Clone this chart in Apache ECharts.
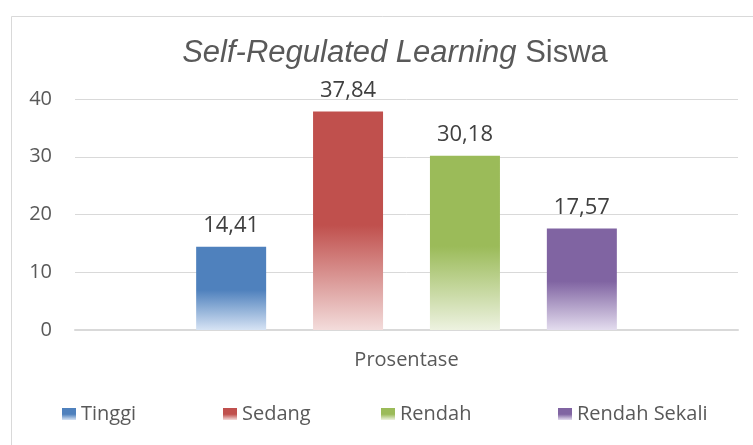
<!DOCTYPE html>
<html>
<head>
<meta charset="utf-8">
<script src="https://cdn.jsdelivr.net/npm/echarts@6/dist/echarts.min.js"></script>
<style>
html,body{margin:0;padding:0;background:#fff;}
#c{width:753px;height:445px;}
</style>
</head>
<body>
<div id="c"></div>
<script>
const categories = ['Prosentase'];
const seriesNames = ['Tinggi', 'Sedang', 'Rendah', 'Rendah Sekali'];
const seriesValues = [[14.41], [37.84], [30.18], [17.57]];
const yTicks = { min: 0, max: 40, interval: 10 };

const baseColors = ['#4F81BD', '#C0504D', '#9BBB59', '#8064A2'];
const lightColors = ['#D6E3F4', '#F3DCDB', '#EDF2E0', '#E3DCEE'];
const legendLefts = [62, 223, 381, 558];
const FONT = "'Open Sans', sans-serif";
const TFONT = "'Liberation Sans', Arial, sans-serif";

function grad(i) {
  return new echarts.graphic.LinearGradient(0, 0, 0, 1, [
    { offset: 0, color: baseColors[i] },
    { offset: 0.52, color: baseColors[i] },
    { offset: 1, color: lightColors[i] }
  ]);
}

const chart = echarts.init(document.getElementById('c'), null, { renderer: 'canvas' });

const option = {
  backgroundColor: '#fff',
  animation: false,
  graphic: [{
    type: 'rect',
    shape: { x: 11.5, y: 16.5, width: 800, height: 500 },
    style: { fill: 'none', stroke: '#D9D9D9', lineWidth: 1 },
    silent: true
  }],
  title: {
    text: '{i|Self-Regulated Learning} {n|Siswa}',
    left: 390,
    textAlign: 'center',
    top: 33,
    textStyle: {
      fontWeight: 'normal',
      fontSize: 31,
      fontFamily: TFONT,
      color: '#595959',
      rich: {
        i: { fontFamily: TFONT, fontStyle: 'italic', fontWeight: 'normal', fontSize: 31, color: '#595959' },
        n: { fontFamily: TFONT, fontWeight: 'normal', fontSize: 31, color: '#595959' }
      }
    }
  },
  legend: seriesNames.map((name, i) => ({
    data: [name],
    left: legendLefts[i],
    top: 404,
    padding: 0,
    itemWidth: 14,
    itemHeight: 12,
    icon: 'rect',
    selectedMode: false,
    textStyle: { fontFamily: FONT, fontSize: 20, color: '#595959' }
  })),
  grid: { left: 75, right: 15, top: 99, bottom: 115 },
  xAxis: {
    type: 'category',
    data: categories,
    axisLine: { lineStyle: { color: '#D9D9D9', width: 2 } },
    axisTick: { show: false },
    axisLabel: { fontFamily: FONT, fontSize: 20, color: '#595959', margin: 20 }
  },
  yAxis: {
    type: 'value',
    min: yTicks.min, max: yTicks.max, interval: yTicks.interval,
    axisLine: { show: false },
    axisTick: { show: false },
    splitLine: { lineStyle: { color: '#D9D9D9', width: 1 } },
    axisLabel: { fontFamily: FONT, fontSize: 20, color: '#595959', margin: 23 }
  },
  series: seriesNames.map((name, i) => ({
    name: name,
    type: 'bar',
    data: seriesValues[i],
    barWidth: 70,
    barGap: '67%',
    itemStyle: { color: grad(i) },
    label: {
      show: true,
      position: 'top',
      distance: 10,
      fontFamily: FONT,
      fontSize: 22,
      color: '#404040',
      formatter: p => p.value.toFixed(2).replace('.', ',')
    }
  }))
};
chart.setOption(option);
</script>
</body>
</html>
